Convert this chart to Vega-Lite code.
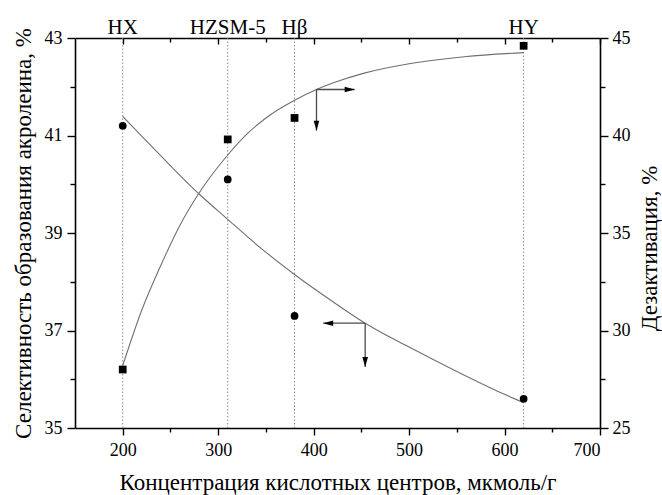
{
  "$schema": "https://vega.github.io/schema/vega-lite/v6.json",
  "width": 525,
  "height": 390,
  "autosize": "none",
  "padding": {"left": 75, "top": 38, "right": 62, "bottom": 67},
  "background": "white",
  "config": {
    "view": {"stroke": null},
    "axis": {
      "grid": false,
      "domainColor": "#000",
      "domainWidth": 1.6,
      "tickColor": "#000",
      "tickWidth": 1.4,
      "labelColor": "#000",
      "titleColor": "#000",
      "labelFont": "Liberation Serif",
      "titleFont": "Liberation Serif",
      "labelFontSize": 18,
      "titleFontSize": 23,
      "titleFontWeight": "normal"
    }
  },
  "datasets": {
    "zeolites": [
      {"x": 200, "name": "HX"},
      {"x": 310, "name": "HZSM-5"},
      {"x": 380, "name": "Hβ"},
      {"x": 620, "name": "HY"}
    ],
    "selectivity": [
      {"x": 200, "y": 41.2},
      {"x": 310, "y": 40.1},
      {"x": 380, "y": 37.3},
      {"x": 620, "y": 35.6}
    ],
    "selectivityFit": [
      {"x": 200, "y": 41.39},
      {"x": 240, "y": 40.58},
      {"x": 280, "y": 39.8},
      {"x": 310, "y": 39.28},
      {"x": 344, "y": 38.7},
      {"x": 380, "y": 38.15},
      {"x": 418, "y": 37.62},
      {"x": 454, "y": 37.15},
      {"x": 500, "y": 36.66},
      {"x": 550, "y": 36.16},
      {"x": 600, "y": 35.69},
      {"x": 620, "y": 35.52}
    ],
    "deactivation": [
      {"x": 200, "y": 28.0},
      {"x": 310, "y": 39.8},
      {"x": 380, "y": 40.9},
      {"x": 620, "y": 44.6}
    ],
    "deactivationFit": [
      {"x": 200, "y": 28.2},
      {"x": 220, "y": 31.05},
      {"x": 240, "y": 33.35},
      {"x": 260, "y": 35.4},
      {"x": 280, "y": 37.05},
      {"x": 310, "y": 39.0},
      {"x": 330, "y": 40.07},
      {"x": 350, "y": 40.9},
      {"x": 380, "y": 41.81},
      {"x": 403, "y": 42.36},
      {"x": 420, "y": 42.69},
      {"x": 453, "y": 43.2},
      {"x": 500, "y": 43.68},
      {"x": 558, "y": 44.04},
      {"x": 620, "y": 44.25}
    ],
    "arrowLeftLines": [
      {"x": 454, "y": 37.15, "x2": 410, "y2": 37.15},
      {"x": 454, "y": 37.15, "x2": 454, "y2": 36.25}
    ],
    "arrowLeftHeads": [
      {"x": 410, "y": 37.15, "dir": "left"},
      {"x": 454, "y": 36.25, "dir": "down"}
    ],
    "arrowRightLines": [
      {"x": 403, "y": 42.36, "x2": 443, "y2": 42.36},
      {"x": 403, "y": 42.36, "x2": 403, "y2": 40.25}
    ],
    "arrowRightHeads": [
      {"x": 443, "y": 42.36, "dir": "right"},
      {"x": 403, "y": 40.25, "dir": "down"}
    ]
  },
  "layer": [
    {
      "data": {"name": "zeolites"},
      "mark": {"type": "rule", "color": "#8a8a8a", "strokeWidth": 1, "strokeDash": [1.5, 2]},
      "encoding": {
        "x": {
          "field": "x", "type": "quantitative",
          "scale": {"domain": [150, 700], "nice": false, "zero": false},
          "axis": {
            "orient": "bottom",
            "values": [200, 300, 400, 500, 600, 700],
            "tickSize": 7,
            "labelPadding": 6,
            "title": "Концентрация кислотных центров, мкмоль/г",
            "titlePadding": 12
          }
        }
      }
    },
    {
      "data": {"name": "zeolites"},
      "mark": {"type": "text", "font": "Liberation Serif", "fontSize": 21, "color": "#000", "baseline": "alphabetic", "dy": -4},
      "encoding": {
        "x": {
          "field": "x", "type": "quantitative",
          "axis": {
            "orient": "top",
            "values": [200, 300, 400, 500, 600, 700],
            "labels": false,
            "tickSize": -6,
            "title": null
          }
        },
        "y": {"datum": 43, "type": "quantitative", "scale": {"domain": [35, 43], "nice": false, "zero": false}, "axis": null},
        "text": {"field": "name"}
      }
    },
    {
      "data": {"name": "selectivityFit"},
      "mark": {"type": "line", "color": "#707070", "strokeWidth": 1.1, "interpolate": "monotone"},
      "encoding": {
        "x": {
          "field": "x", "type": "quantitative",
          "axis": {
            "orient": "bottom",
            "values": [250, 350, 450, 550, 650],
            "labels": false,
            "domain": false,
            "tickSize": 4,
            "title": null
          }
        },
        "y": {
          "field": "y", "type": "quantitative",
          "scale": {"domain": [35, 43], "nice": false, "zero": false},
          "axis": {
            "orient": "left",
            "values": [36, 38, 40, 42],
            "labels": false,
            "domain": false,
            "tickSize": 5,
            "title": null
          }
        }
      }
    },
    {
      "data": {"name": "deactivationFit"},
      "mark": {"type": "line", "color": "#707070", "strokeWidth": 1.1, "interpolate": "monotone"},
      "encoding": {
        "x": {
          "field": "x", "type": "quantitative",
          "axis": {
            "orient": "top",
            "values": [250, 350, 450, 550, 650],
            "labels": false,
            "domain": false,
            "tickSize": -4,
            "title": null
          }
        },
        "y": {
          "field": "y", "type": "quantitative",
          "scale": {"domain": [25, 45], "nice": false, "zero": false},
          "axis": {
            "orient": "right",
            "values": [27.5, 32.5, 37.5, 42.5],
            "labels": false,
            "domain": false,
            "tickSize": 5,
            "title": null
          }
        }
      }
    },
    {
      "data": {"name": "selectivity"},
      "mark": {"type": "point", "shape": "circle", "filled": true, "color": "#000", "opacity": 1, "size": 60},
      "encoding": {
        "x": {"field": "x", "type": "quantitative", "axis": null},
        "y": {
          "field": "y", "type": "quantitative",
          "scale": {"domain": [35, 43], "nice": false, "zero": false},
          "axis": {
            "orient": "left",
            "values": [35, 37, 39, 41, 43],
            "tickSize": 8,
            "labelPadding": 5,
            "title": "Селективность образования акролеина, %",
            "titlePadding": 9
          }
        }
      }
    },
    {
      "data": {"name": "deactivation"},
      "mark": {"type": "point", "shape": "square", "filled": true, "color": "#000", "opacity": 1, "size": 60},
      "encoding": {
        "x": {"field": "x", "type": "quantitative", "axis": null},
        "y": {
          "field": "y", "type": "quantitative",
          "scale": {"domain": [25, 45], "nice": false, "zero": false},
          "axis": {
            "orient": "right",
            "values": [25, 30, 35, 40, 45],
            "tickSize": 8,
            "labelPadding": 4,
            "title": "Дезактивация, %",
            "titleAngle": 270,
            "titleBaseline": "top",
            "titlePadding": 8,
            "titleY": 210
          }
        }
      }
    },
    {
      "data": {"name": "arrowLeftLines"},
      "mark": {"type": "rule", "color": "#4a4a4a", "strokeWidth": 1.3},
      "encoding": {
        "x": {"field": "x", "type": "quantitative", "axis": null},
        "x2": {"field": "x2"},
        "y": {"field": "y", "type": "quantitative", "scale": {"domain": [35, 43], "nice": false, "zero": false}, "axis": null},
        "y2": {"field": "y2"}
      }
    },
    {
      "data": {"name": "arrowLeftHeads"},
      "mark": {"type": "point", "filled": true, "color": "#000", "opacity": 1, "size": 400, "strokeWidth": 0},
      "encoding": {
        "x": {"field": "x", "type": "quantitative", "axis": null},
        "y": {"field": "y", "type": "quantitative", "scale": {"domain": [35, 43], "nice": false, "zero": false}, "axis": null},
        "shape": {
          "field": "dir", "type": "nominal", "legend": null,
          "scale": {"domain": ["right", "down", "left"], "range": ["M0,0L-1,-0.28L-1,0.28Z", "M0,0L-0.28,-1L0.28,-1Z", "M0,0L1,-0.28L1,0.28Z"]}
        }
      }
    },
    {
      "data": {"name": "arrowRightLines"},
      "mark": {"type": "rule", "color": "#4a4a4a", "strokeWidth": 1.3},
      "encoding": {
        "x": {"field": "x", "type": "quantitative", "axis": null},
        "x2": {"field": "x2"},
        "y": {"field": "y", "type": "quantitative", "scale": {"domain": [25, 45], "nice": false, "zero": false}, "axis": null},
        "y2": {"field": "y2"}
      }
    },
    {
      "data": {"name": "arrowRightHeads"},
      "mark": {"type": "point", "filled": true, "color": "#000", "opacity": 1, "size": 400, "strokeWidth": 0},
      "encoding": {
        "x": {"field": "x", "type": "quantitative", "axis": null},
        "y": {"field": "y", "type": "quantitative", "scale": {"domain": [25, 45], "nice": false, "zero": false}, "axis": null},
        "shape": {
          "field": "dir", "type": "nominal", "legend": null,
          "scale": {"domain": ["right", "down", "left"], "range": ["M0,0L-1,-0.28L-1,0.28Z", "M0,0L-0.28,-1L0.28,-1Z", "M0,0L1,-0.28L1,0.28Z"]}
        }
      }
    }
  ],
  "resolve": {
    "scale": {"y": "independent", "shape": "independent"},
    "axis": {"x": "independent", "y": "independent"}
  }
}
